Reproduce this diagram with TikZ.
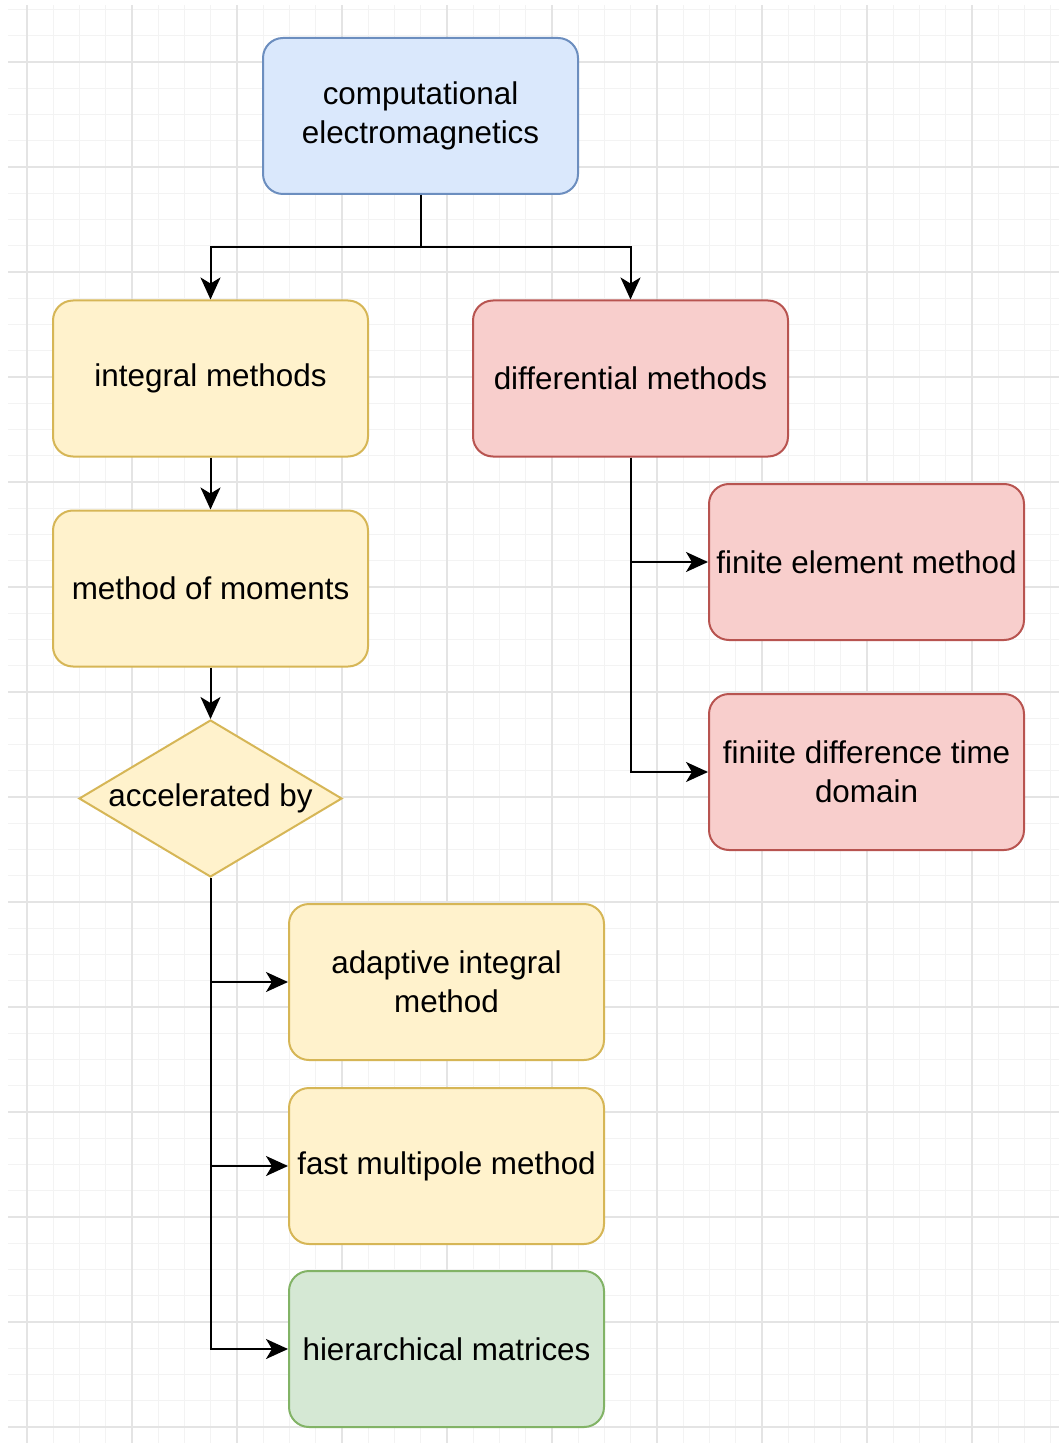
\documentclass[tikz,border=0pt]{standalone}
\usepackage{fontspec}
\setmainfont{Liberation Sans}
\usetikzlibrary{shapes.geometric,arrows.meta}
\definecolor{bluefill}{HTML}{DAE8FC}\definecolor{bluedraw}{HTML}{6C8EBF}
\definecolor{yelfill}{HTML}{FFF2CC}\definecolor{yeldraw}{HTML}{D6B656}
\definecolor{redfill}{HTML}{F8CECC}\definecolor{reddraw}{HTML}{B85450}
\definecolor{grnfill}{HTML}{D5E8D4}\definecolor{grndraw}{HTML}{82B366}
\definecolor{gridmajor}{HTML}{E4E4E4}\definecolor{gridminor}{HTML}{F3F3F3}
\tikzset{
  box/.style={rounded corners=10pt, line width=1pt, minimum width=157.5pt, minimum height=78pt,
    inner sep=0pt, align=center, font=\fontsize{15.7}{19.5}\selectfont},
  bluebox/.style={box, fill=bluefill, draw=bluedraw},
  yelbox/.style={box, fill=yelfill, draw=yeldraw},
  redbox/.style={box, fill=redfill, draw=reddraw},
  grnbox/.style={box, fill=grnfill, draw=grndraw},
  decision/.style={diamond, fill=yelfill, draw=yeldraw, line width=1pt, minimum width=131.5pt,
    minimum height=78.5pt, inner sep=0pt},
  arr/.style={line width=1pt, -{Stealth[length=11pt, width=10pt, inset=3pt]}},
}
\begin{document}
\begin{tikzpicture}[x=0.5pt, y=-0.5pt]
\useasboundingbox (0,0) rectangle (1059,1443);
\fill[white] (0,0) rectangle (1059,1443);
% grid
\begin{scope}
\clip (8,6) rectangle (1059,1443);
\foreach \i in {0,...,41} {
  \draw[gridminor, line width=0.5pt] ({0.75+26.25*\i},0) -- ({0.75+26.25*\i},1443);
}
\foreach \i in {0,...,55} {
  \draw[gridminor, line width=0.5pt] (0,{9.5+26.25*\i}) -- (1059,{9.5+26.25*\i});
}
\foreach \i in {0,...,10} {
  \draw[gridmajor, line width=0.6pt] ({27+105*\i},0) -- ({27+105*\i},1443);
}
\foreach \i in {0,...,14} {
  \draw[gridmajor, line width=0.6pt] (0,{-43+105*\i}) -- (1059,{-43+105*\i});
}
\end{scope}
% nodes
\node[bluebox] (ce) at (420.5,116) {computational\\electromagnetics};
\node[yelbox] (im) at (210.5,378.5) {integral methods};
\node[redbox] (dm) at (630.5,378.5) {differential methods};
\node[yelbox] (mom) at (210.5,588.5) {method of moments};
\node[decision, label={[font=\fontsize{15.7}{19.5}\selectfont]center:accelerated by}] (acc) at (210.5,798.5) {};
\node[redbox] (fem) at (866.5,562) {finite element method};
\node[redbox] (fdtd) at (866.5,772) {finiite difference time\\domain};
\node[yelbox] (aim) at (446.5,982) {adaptive integral\\method};
\node[yelbox] (fmm) at (446.5,1166) {fast multipole method};
\node[grnbox] (hm) at (446.5,1349) {hierarchical matrices};
% connectors
\draw[arr] (ce.south) -- ++(0,52) -| (im.north);
\draw[arr] (ce.south) -- ++(0,52) -| (dm.north);
\draw[arr] (im) -- (mom);
\draw[arr] (mom) -- (acc);
\draw[arr] (dm.south) |- (fem.west);
\draw[arr] (dm.south) |- (fdtd.west);
\draw[arr] (acc.south) |- (aim.west);
\draw[arr] (acc.south) |- (fmm.west);
\draw[arr] (acc.south) |- (hm.west);
\end{tikzpicture}
\end{document}
